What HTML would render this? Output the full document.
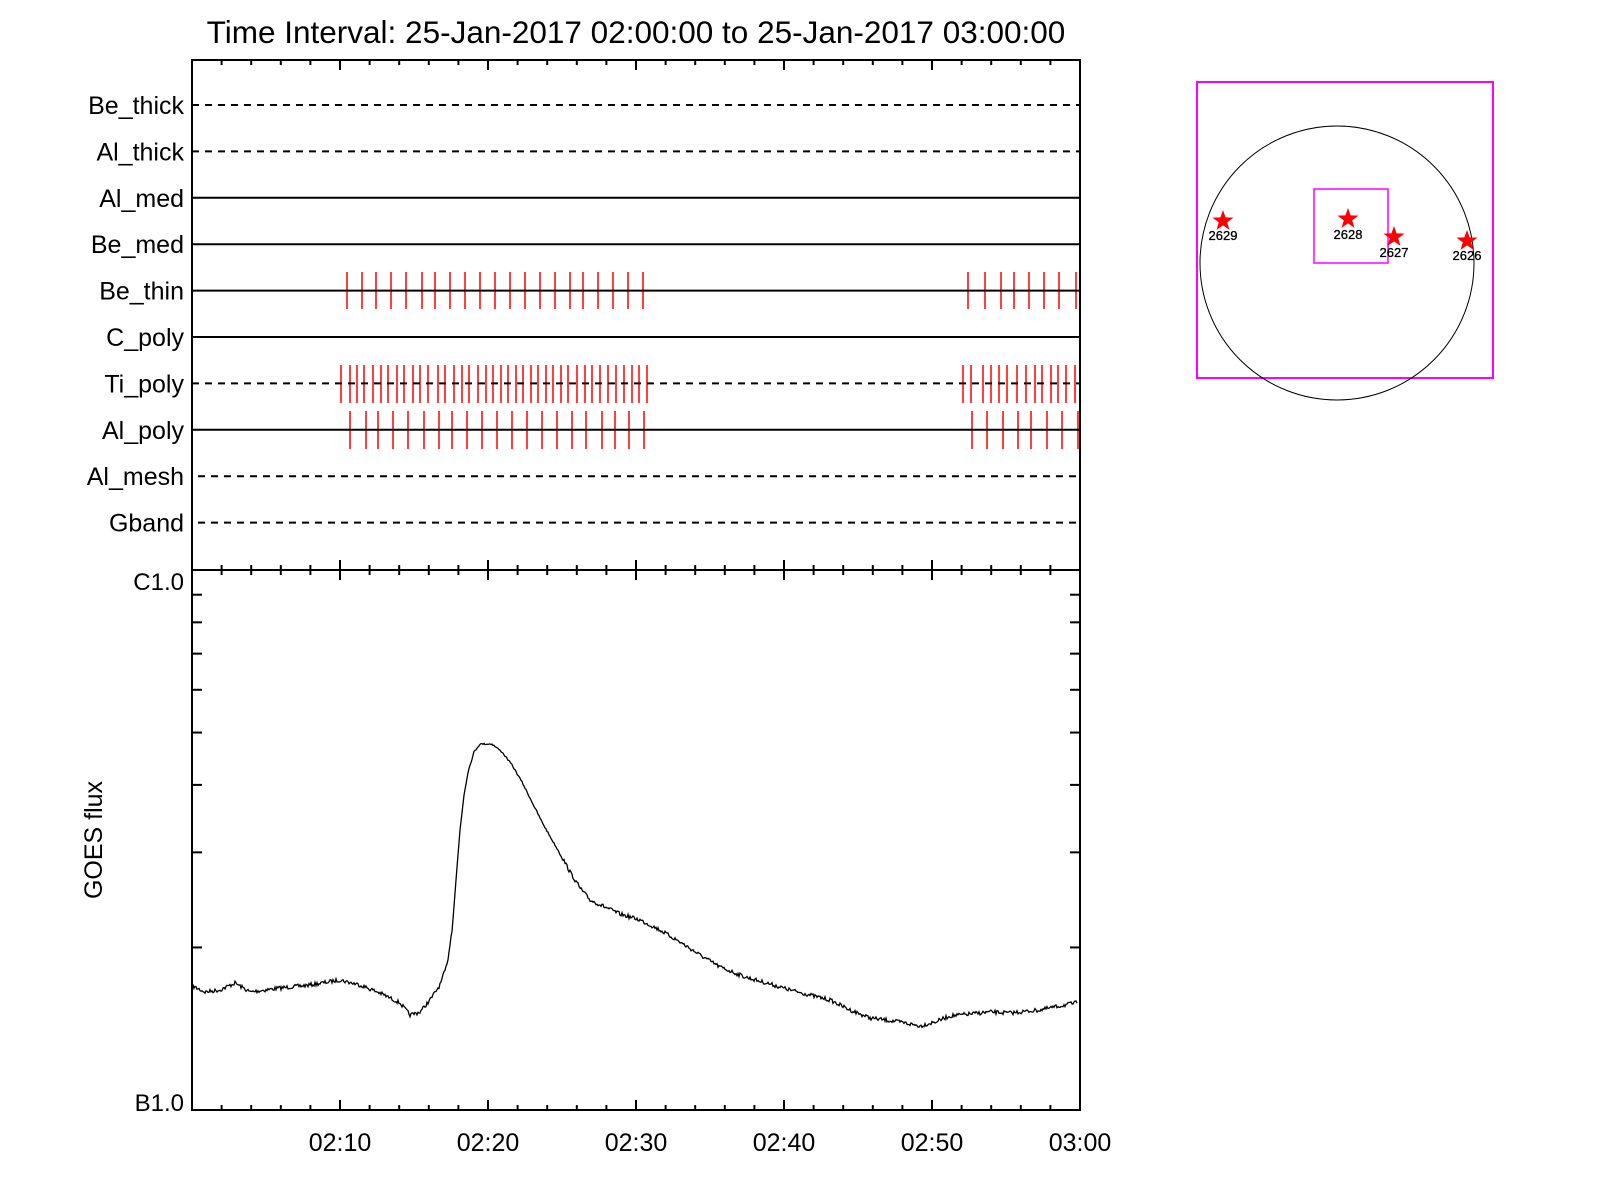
<!DOCTYPE html>
<html><head><meta charset="utf-8"><style>
html,body{margin:0;padding:0;background:#fff;}
svg{display:block;font-family:"Liberation Sans",Arial,sans-serif;}
</style></head><body>
<svg id="s" width="1600" height="1200" viewBox="0 0 1600 1200" xmlns="http://www.w3.org/2000/svg">
<rect width="1600" height="1200" fill="#fff"/>
<text x="636" y="43" font-size="31.5" text-anchor="middle">Time Interval: 25-Jan-2017 02:00:00 to 25-Jan-2017 03:00:00</text>
<g id="rows" font-size="25" text-anchor="end"></g>
<g id="red" stroke="#f00" stroke-width="1.5"></g>
<g id="ax" stroke="#000" stroke-width="2" fill="none"></g>
<path id="goes" fill="none" stroke="#000" stroke-width="1.3"/>
<text x="184" y="590" font-size="24" text-anchor="end">C1.0</text>
<text x="184" y="1111" font-size="24" text-anchor="end">B1.0</text>
<text transform="translate(102,840) rotate(-90)" font-size="25" text-anchor="middle">GOES flux</text>
<g id="xl" font-size="25" text-anchor="middle"></g>
<rect x="1197" y="82" width="296" height="296" fill="none" stroke="#f0f" stroke-width="2"/>
<circle cx="1337" cy="263" r="137" fill="none" stroke="#000" stroke-width="1"/>
<rect x="1314" y="189" width="74" height="74" fill="none" stroke="#f0f" stroke-width="1.5"/>
<g id="stars" fill="#f00"></g>
<g font-size="13" text-anchor="middle" stroke="#000" stroke-width="0.3">
<text x="1223" y="240">2629</text><text x="1348" y="239">2628</text><text x="1394" y="257">2627</text><text x="1467" y="260">2626</text>
</g>
</svg>
<script>
var NS="http://www.w3.org/2000/svg";
function el(p,t,a,txt){var e=document.createElementNS(NS,t);for(var k in a)e.setAttribute(k,a[k]);if(txt)e.textContent=txt;document.getElementById(p).appendChild(e);return e;}
var X0=192,X1=1080,pm=(X1-X0)/60;
var names=["Be_thick","Al_thick","Al_med","Be_med","Be_thin","C_poly","Ti_poly","Al_poly","Al_mesh","Gband"];
var dash=[1,1,0,0,0,0,1,0,1,1];
for(var i=0;i<10;i++){var y=105+46.4*i;
 el("rows","text",{x:184,y:y+9},names[i]);
 var a={x1:(i>=8?198:X0),x2:(i>=8?1076:X1),y1:y,y2:y,stroke:"#000","stroke-width":2};
 if(dash[i])a["stroke-dasharray"]="7,6";
 el("ax","line",a);}
function reds(xs,y1,y2){xs.forEach(function(x){el("red","line",{x1:x,x2:x,y1:y1,y2:y2});});}
reds([347,362,376,391,406,422,435,450,465,480,495,510,525,540,555,570,583,598,613,628,643,968,985,1001,1014,1029,1044,1059,1076],272,309);
reds([341,350,357,364,373,381,388,397,404,413,420,428,438,445,454,462,469,478,486,493,501,508,516,523,531,538,546,553,561,568,577,585,592,600,608,616,624,632,639,647,963,971,983,991,999,1007,1017,1026,1035,1042,1051,1058,1066,1075],365,403);
reds([350,366,378,393,408,424,439,452,467,482,497,512,527,542,557,572,586,602,615,629,644,972,987,1003,1018,1031,1047,1062,1078],411,449);
el("ax","rect",{x:X0,y:60,width:X1-X0,height:1050});
el("ax","line",{x1:X0,x2:X1,y1:570,y2:570});
var labs=["","02:10","02:20","02:30","02:40","02:50","03:00"];
for(var m=0;m<=60;m+=2){var x=X0+m*pm,maj=(m%10==0);
 el("ax","line",{x1:x,x2:x,y1:60,y2:60+(maj?10:5)});
 el("ax","line",{x1:x,x2:x,y1:570-(maj?10:5),y2:570+(maj?10:5)});
 el("ax","line",{x1:x,x2:x,y1:1110,y2:1110-(maj?10:5)});
 if(maj&&m>0)el("xl","text",{x:x,y:1151},labs[m/10]);}
for(var k=2;k<=9;k++){var y=570+540*(1-Math.log10(k));
 el("ax","line",{x1:X0,x2:X0+10,y1:y,y2:y});el("ax","line",{x1:X1,x2:X1-10,y1:y,y2:y});}
function star(cx,cy,r){var p=[];for(var i=0;i<10;i++){var rr=i%2?r*0.4:r,an=-Math.PI/2+i*Math.PI/5;p.push((cx+rr*Math.cos(an)).toFixed(1)+","+(cy+rr*Math.sin(an)).toFixed(1));}el("stars","polygon",{points:p.join(" ")});}
star(1223,221,11);star(1348,219,11);star(1394,237,11);star(1467,241,11);
var cp=[[190,985],[205,992],[220,990],[235,983],[250,992],[280,988],[310,985],[340,980],[360,985],[380,993],[400,1003],[410,1015],[420,1012],[430,1000],[440,985],[447,965],[452,930],[456,880],[460,830],[464,795],[468,772],[474,752],[480,744],[492,744],[502,752],[512,765],[522,782],[532,802],[542,822],[552,840],[562,857],[570,872],[580,888],[590,900],[605,907],[620,914],[640,920],[660,930],[680,942],[700,955],[720,967],[745,977],[770,984],[790,990],[810,995],[830,1000],[850,1010],[870,1018],[900,1022],[920,1026],[935,1022],[950,1016],[970,1014],[990,1012],[1010,1013],[1040,1010],[1075,1003],[1085,1000]];
var seed=7;function rnd(){seed=(seed*16807)%2147483647;return seed/2147483647-0.5;}
var d="",j=0;
for(var x=193;x<=1077;x+=1){while(j<cp.length-2&&cp[j+1][0]<x)j++;var a=cp[j],b=cp[j+1];var t=(x-a[0])/(b[0]-a[0]);var y=a[1]+t*(b[1]-a[1]);
 var amp=(x>455&&x<560)?1.5:4;y+=rnd()*amp;d+=(d?"L":"M")+x+","+y.toFixed(1);}
document.getElementById("goes").setAttribute("d",d);
</script>
</body></html>
